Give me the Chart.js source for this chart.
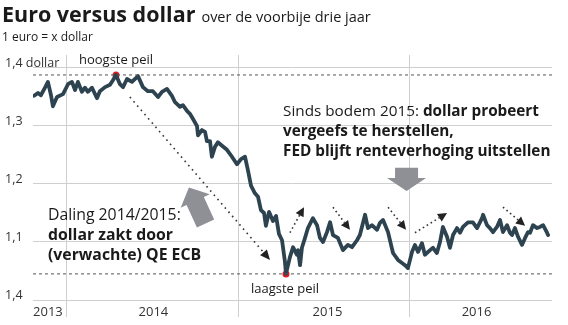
<!DOCTYPE html>
<html>
<head>
<meta charset="utf-8">
<script src="https://cdn.jsdelivr.net/npm/chart.js@4.4.1/dist/chart.umd.min.js"></script>
<style>
  html, body { margin: 0; padding: 0; background: #fff; }
  #wrap { width: 568px; height: 325px; }
</style>
</head>
<body>
<div id="wrap"><canvas id="myChart" width="568" height="325"></canvas></div>
<script>
// datum (jaar als fractie) en koers (dollar per euro)
const datums = [
  2013.808, 2013.831, 2013.848, 2013.872, 2013.889, 2013.907, 2013.918, 2013.942, 2013.977, 2014.006,
  2014.029, 2014.047, 2014.064, 2014.087, 2014.105, 2014.122, 2014.146, 2014.175, 2014.192, 2014.222,
  2014.251, 2014.268, 2014.286, 2014.309, 2014.327, 2014.350, 2014.379, 2014.414, 2014.443, 2014.472,
  2014.501, 2014.531, 2014.554, 2014.583, 2014.612, 2014.630, 2014.659, 2014.676, 2014.700, 2014.717,
  2014.735, 2014.758, 2014.764, 2014.787, 2014.805, 2014.816, 2014.834, 2014.845, 2014.863, 2014.880,
  2014.904, 2014.933, 2014.962, 2014.991, 2015.015, 2015.038, 2015.055, 2015.073, 2015.096, 2015.114,
  2015.131, 2015.149, 2015.160, 2015.178, 2015.201, 2015.219, 2015.236, 2015.254, 2015.271, 2015.277,
  2015.300, 2015.318, 2015.341, 2015.347, 2015.359, 2015.370, 2015.388, 2015.405, 2015.434, 2015.458,
  2015.475, 2015.493, 2015.516, 2015.534, 2015.551, 2015.580, 2015.609, 2015.638, 2015.662, 2015.691,
  2015.708, 2015.738, 2015.755, 2015.778, 2015.808, 2015.825, 2015.843, 2015.872, 2015.901, 2015.930,
  2015.971, 2015.988, 2016.012, 2016.029, 2016.047, 2016.070, 2016.087, 2016.117, 2016.134, 2016.157,
  2016.175, 2016.192, 2016.216, 2016.233, 2016.251, 2016.274, 2016.292, 2016.309, 2016.338, 2016.367,
  2016.391, 2016.420, 2016.426, 2016.449, 2016.466, 2016.484, 2016.507, 2016.525, 2016.542, 2016.566,
  2016.583, 2016.595, 2016.612, 2016.630, 2016.653, 2016.671, 2016.688, 2016.700, 2016.717, 2016.741,
  2016.758, 2016.776, 2016.799, 2016.805
];
const koers = [
  1.352, 1.357, 1.353, 1.366, 1.376, 1.353, 1.334, 1.350, 1.355, 1.372,
  1.376, 1.362, 1.376, 1.359, 1.366, 1.359, 1.366, 1.348, 1.360, 1.367,
  1.371, 1.379, 1.388, 1.372, 1.367, 1.381, 1.376, 1.386, 1.367, 1.360,
  1.360, 1.350, 1.359, 1.364, 1.352, 1.341, 1.333, 1.336, 1.326, 1.321,
  1.312, 1.300, 1.284, 1.293, 1.290, 1.274, 1.274, 1.247, 1.264, 1.272,
  1.266, 1.259, 1.247, 1.234, 1.243, 1.247, 1.224, 1.197, 1.184, 1.178,
  1.155, 1.150, 1.128, 1.152, 1.136, 1.145, 1.114, 1.103, 1.066, 1.045,
  1.074, 1.091, 1.078, 1.086, 1.060, 1.090, 1.107, 1.124, 1.141, 1.129,
  1.107, 1.100, 1.117, 1.134, 1.112, 1.107, 1.086, 1.095, 1.091, 1.103,
  1.112, 1.147, 1.124, 1.129, 1.121, 1.133, 1.138, 1.117, 1.081, 1.069,
  1.060, 1.055, 1.083, 1.095, 1.083, 1.098, 1.078, 1.086, 1.090, 1.081,
  1.100, 1.126, 1.109, 1.090, 1.112, 1.124, 1.116, 1.126, 1.134, 1.134,
  1.124, 1.141, 1.147, 1.129, 1.124, 1.117, 1.126, 1.138, 1.117, 1.129,
  1.116, 1.112, 1.124, 1.109, 1.095, 1.107, 1.117, 1.116, 1.129, 1.124,
  1.126, 1.129, 1.116, 1.112
];

// as-labels
const yWaarden = [1.0, 1.1, 1.2, 1.3, 1.4];
const yLabels = ['1,4', '1,1', '1,2', '1,3', '1,4 dollar'];
const jaren = ['2013', '2014', '2015', '2016'];
const jaarMidden = [2013.889, 2014.504, 2015.519, 2016.388];
const jaarGrenzen = [2014, 2015, 2016];

// hoogste en laagste peil
const pieken = [{ x: 2014.286, y: 1.388 }, { x: 2015.277, y: 1.045 }];
const peilHoog = 1.388;
const peilLaag = 1.045;

// stippelpijlen (van -> naar, in jaar / koers)
const pijlen = [
  { van: [2014.367, 1.350], naar: [2015.184, 1.069], groot: true },
  { van: [2015.300, 1.116], naar: [2015.382, 1.160] },
  { van: [2015.551, 1.160], naar: [2015.650, 1.121] },
  { van: [2015.872, 1.160], naar: [2015.977, 1.121] },
  { van: [2016.029, 1.116], naar: [2016.216, 1.150] },
  { van: [2016.542, 1.160], naar: [2016.671, 1.128] }
];
// grijze blokpijlen (basis -> punt)
const blokPijlen = [
  { van: [2014.808, 1.132], naar: [2014.711, 1.194], lijf: 19, kop: 32, kopLengte: 15 },
  { van: [2015.980, 1.228], naar: [2015.980, 1.188], lijf: 23, kop: 39, kopLengte: 13 }
];

const xMin = 2013.802, xMax = 2016.828;

const FONT = '"Open Sans", sans-serif';

const annotaties = {
  id: 'annotaties',
  afterDatasetsDraw(chart) {
    const ctx = chart.ctx;
    const xs = chart.scales.x, ys = chart.scales.y;
    const px = p => [xs.getPixelForValue(p[0]), ys.getPixelForValue(p[1])];

    // stippelpijlen
    pijlen.forEach(p => {
      const a = px(p.van), b = px(p.naar);
      const hoek = Math.atan2(b[1] - a[1], b[0] - a[0]);
      const kl = p.groot ? 10 : 9, kb = 4.5;
      ctx.save();
      ctx.strokeStyle = '#333';
      ctx.lineWidth = 1.6;
      ctx.setLineDash(p.groot ? [1.6, 4] : [1.6, 3]);
      ctx.beginPath();
      ctx.moveTo(a[0], a[1]);
      ctx.lineTo(b[0] - Math.cos(hoek) * kl, b[1] - Math.sin(hoek) * kl);
      ctx.stroke();
      ctx.setLineDash([]);
      ctx.fillStyle = '#222';
      ctx.translate(b[0], b[1]);
      ctx.rotate(hoek);
      ctx.beginPath();
      ctx.moveTo(0, 0);
      ctx.lineTo(-kl, -kb);
      ctx.lineTo(-kl, kb);
      ctx.closePath();
      ctx.fill();
      ctx.restore();
    });

    // blokpijlen
    blokPijlen.forEach(p => {
      const a = px(p.van), b = px(p.naar);
      const hoek = Math.atan2(b[1] - a[1], b[0] - a[0]);
      const len = Math.hypot(b[0] - a[0], b[1] - a[1]);
      ctx.save();
      ctx.fillStyle = '#8e9096';
      ctx.translate(a[0], a[1]);
      ctx.rotate(hoek);
      ctx.beginPath();
      ctx.moveTo(0, -p.lijf / 2);
      ctx.lineTo(len - p.kopLengte, -p.lijf / 2);
      ctx.lineTo(len - p.kopLengte, -p.kop / 2);
      ctx.lineTo(len, 0);
      ctx.lineTo(len - p.kopLengte, p.kop / 2);
      ctx.lineTo(len - p.kopLengte, p.lijf / 2);
      ctx.lineTo(0, p.lijf / 2);
      ctx.closePath();
      ctx.fill();
      ctx.restore();
    });
  },
  afterDraw(chart) {
    const ctx = chart.ctx;
    ctx.save();
    ctx.fillStyle = '#1a1a1a';
    ctx.textBaseline = 'alphabetic';
    ctx.font = 'bold 21.5px ' + FONT;
    ctx.fillText('Euro versus dollar', 2, 22);
    const w = ctx.measureText('Euro versus dollar').width;
    ctx.font = '14.5px ' + FONT;
    ctx.fillText('over de voorbije drie jaar', 2 + w + 6, 22);
    ctx.font = '12px ' + FONT;
    ctx.fillText('1 euro = x dollar', 2, 41);

    ctx.textBaseline = 'middle';
    ctx.font = '13px ' + FONT;
    ctx.fillText('hoogste peil', 79, 60);
    ctx.fillText('laagste peil', 251, 289);

    // tekstblokken
    const regel = (delen, x, y, size) => {
      delen.forEach(d => {
        ctx.font = (d[1] ? 'bold ' : '') + size + 'px ' + FONT;
        ctx.fillText(d[0], x, y);
        x += ctx.measureText(d[0]).width;
      });
    };
    regel([['Sinds bodem 2015: ', false], ['dollar probeert', true]], 283, 112, 15.3);
    regel([['vergeefs te herstellen,', true]], 283, 132, 15.3);
    regel([['FED blijft renteverhoging uitstellen', true]], 283, 152, 15.3);

    regel([['Daling 2014/2015:', false]], 48, 215, 15.8);
    regel([['dollar zakt door', true]], 48, 235, 15.8);
    regel([['(verwachte) QE ECB', true]], 48, 255, 15.8);
    ctx.restore();
  }
};

const lijnData = datums.map((d, i) => ({ x: d, y: koers[i] }));

const config = {
  type: 'line',
  data: {
    datasets: [
      {
        data: [{ x: xMin, y: peilHoog }, { x: xMax, y: peilHoog }],
        borderColor: '#555', borderWidth: 1, borderDash: [3, 3],
        pointRadius: 0, fill: false
      },
      {
        data: [{ x: xMin, y: peilLaag }, { x: xMax, y: peilLaag }],
        borderColor: '#555', borderWidth: 1, borderDash: [3, 3],
        pointRadius: 0, fill: false
      },
      {
        data: lijnData,
        borderColor: '#2d4350', borderWidth: 3.8,
        borderJoinStyle: 'round', borderCapStyle: 'round',
        pointRadius: 0, tension: 0, fill: false
      },
      {
        data: pieken,
        showLine: false,
        pointRadius: 3.5, pointBackgroundColor: '#e31b23', pointBorderWidth: 0
      }
    ]
  },
  options: {
    responsive: false,
    animation: false,
    layout: { padding: { left: 5, right: 16, top: 55, bottom: 0 } },
    plugins: { legend: { display: false }, tooltip: { enabled: false } },
    scales: {
      x: {
        type: 'linear',
        min: xMin, max: xMax,
        afterBuildTicks: s => {
          s.ticks = jaarGrenzen.concat(jaarMidden).sort((a, b) => a - b).map(v => ({ value: v }));
        },
        afterFit: s => { s.height = 25; },
        border: { display: false },
        grid: {
          color: c => jaarGrenzen.includes(c.tick && c.tick.value) ? '#cfcfcf' : 'rgba(0,0,0,0)',
          tickColor: c => jaarGrenzen.includes(c.tick && c.tick.value) ? '#cfcfcf' : 'rgba(0,0,0,0)',
          tickLength: 17,
          lineWidth: 1
        },
        ticks: {
          padding: -13,
          maxRotation: 0,
          autoSkip: false,
          color: '#333',
          font: { family: FONT, size: 13 },
          callback: v => {
            const i = jaarMidden.indexOf(v);
            return i >= 0 ? jaren[i] : '';
          }
        }
      },
      y: {
        min: 1.0, max: 1.4224,
        afterBuildTicks: s => { s.ticks = yWaarden.map(v => ({ value: v })); },
        afterFit: s => { s.width = 28; },
        border: { display: false },
        grid: { color: '#cfcfcf', drawTicks: false, lineWidth: 1 },
        ticks: {
          mirror: true,
          padding: -28,
          crossAlign: 'near',
          labelOffset: -5,
          color: '#333',
          font: { family: FONT, size: 12.5 },
          callback: v => yLabels[yWaarden.indexOf(v)]
        }
      }
    }
  },
  plugins: [annotaties]
};

new Chart(document.getElementById('myChart').getContext('2d'), config);
</script>
</body>
</html>
